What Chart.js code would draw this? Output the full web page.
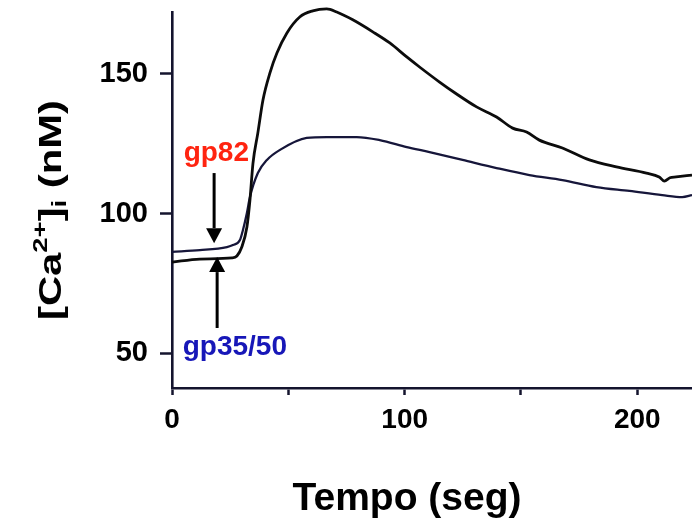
<!DOCTYPE html>
<html>
<head>
<meta charset="utf-8">
<script src="https://cdn.jsdelivr.net/npm/chart.js@4.4.1/dist/chart.umd.min.js"></script>
<style>
  html, body { margin: 0; padding: 0; background: #ffffff; }
  #wrap { width: 692px; height: 523px; }
</style>
</head>
<body>
<div id="wrap"><canvas id="c" width="692" height="523"></canvas></div>
<script>
// ---- data ----
const timeA = [0, 12, 25.8, 27.9, 30, 32.2, 33.5, 34.8, 36.9, 39.1, 42.1, 45.1, 49.4, 54.9, 60.5, 66.5, 70.8, 77.7, 86.3, 93.6, 100.9, 106.4, 115, 122, 130.9, 139.5, 146.4, 152.4, 157.9, 167.8, 179.4, 191, 203.9, 209.4, 211.6, 214, 216.7, 223.5];
const valuesA = [82.6, 83.7, 84.1, 84.8, 88, 95.2, 104.8, 118, 128.9, 140.7, 150.4, 157.5, 164.7, 170.4, 172.6, 173.3, 172.2, 169.4, 165.1, 161.1, 156.1, 152.5, 147.1, 143, 138.2, 134.6, 130.6, 129.2, 126.3, 123.5, 119.2, 116.7, 114.5, 113.1, 111.6, 112.8, 113.1, 113.8];

const timeB = [0, 12, 23.6, 26.2, 29.2, 30.5, 32.2, 33.5, 36.9, 40.8, 46.4, 57.9, 66.5, 79.4, 89.3, 100.9, 110.7, 124.9, 139.5, 153.6, 167.8, 182.4, 196.6, 210.7, 219.3, 223.5];
const valuesB = [86.3, 86.9, 88.0, 88.7, 90.5, 94.1, 100.2, 105.9, 114.5, 119.2, 122.8, 127.1, 127.4, 127.4, 126.3, 123.8, 122.0, 119.2, 116.3, 113.8, 112.0, 109.5, 108.1, 106.6, 105.9, 106.6];

const xTicks = [0, 50, 100, 150, 200];
const xTickLabels = ['0', '', '100', '', '200'];
const yTicks = [50, 100, 150];
const yTickLabels = ['50', '100', '150'];

const xTitle = 'Tempo (seg)';
const labelA = 'gp35/50';
const labelB = 'gp82';

// ---- annotation placement (data units) ----
const annotations = [
  { text: labelB, color: '#ff2410', x: 5.0, y: 118.8, arrowX: 18.1, fromY: 114.5, toY: 89.4 },
  { text: labelA, color: '#1717b8', x: 4.6, y: 49.3, arrowX: 19.4, fromY: 59.0, toY: 84.4 }
];

const FONT = '"Liberation Sans", Arial, Helvetica, sans-serif';
const AXIS_COLOR = '#14142e';

const extrasPlugin = {
  id: 'extras',
  afterDatasetsDraw(chart) {
    const ctx = chart.ctx;
    const xs = chart.scales.x, ys = chart.scales.y;
    ctx.save();
    annotations.forEach(a => {
      const ax = xs.getPixelForValue(a.arrowX);
      const y0 = ys.getPixelForValue(a.fromY);
      const y1 = ys.getPixelForValue(a.toY);
      const dir = y1 > y0 ? 1 : -1;
      const headL = 15, headW = 8;
      ctx.strokeStyle = '#000';
      ctx.fillStyle = '#000';
      ctx.lineWidth = 3;
      ctx.beginPath();
      ctx.moveTo(ax, y0);
      ctx.lineTo(ax, y1 - dir * headL);
      ctx.stroke();
      ctx.beginPath();
      ctx.moveTo(ax, y1);
      ctx.lineTo(ax - headW, y1 - dir * headL);
      ctx.lineTo(ax + headW, y1 - dir * headL);
      ctx.closePath();
      ctx.fill();
      ctx.fillStyle = a.color;
      ctx.font = 'bold 28px ' + FONT;
      ctx.textAlign = 'left';
      ctx.textBaseline = 'alphabetic';
      ctx.fillText(a.text, xs.getPixelForValue(a.x), ys.getPixelForValue(a.y));
    });
    ctx.restore();
  },
  afterDraw(chart) {
    const ctx = chart.ctx;
    ctx.save();
    ctx.fillStyle = '#000';
    ctx.font = 'bold 39px ' + FONT;
    ctx.textAlign = 'center';
    ctx.textBaseline = 'alphabetic';
    ctx.fillText(xTitle, 407, 510);
    const main = 'bold 32px ' + FONT;
    const small = 'bold 21px ' + FONT;
    const parts = [
      { t: '[Ca', f: main, dy: 0 },
      { t: '2+', f: small, dy: -14 },
      { t: ']', f: main, dy: 0 },
      { t: 'i', f: small, dy: 5 },
      { t: ' (nM)', f: main, dy: 0 }
    ];
    let total = 0;
    parts.forEach(p => { ctx.font = p.f; p.w = ctx.measureText(p.t).width; total += p.w; });
    const target = 220;
    const sx = target / total;
    ctx.translate(61, 210);
    ctx.rotate(-Math.PI / 2);
    ctx.scale(sx, 1);
    ctx.textAlign = 'left';
    let cx = -total / 2;
    parts.forEach(p => {
      ctx.font = p.f;
      ctx.fillText(p.t, cx, p.dy);
      cx += p.w;
    });
    ctx.restore();
  }
};

const chart = new Chart(document.getElementById('c'), {
  type: 'line',
  data: {
    datasets: [
      {
        label: labelA,
        data: timeA.map((t, i) => ({ x: t, y: valuesA[i] })),
        borderColor: '#0c0c0c',
        borderWidth: 2.8,
        pointRadius: 0,
        cubicInterpolationMode: 'monotone',
        fill: false,
        clip: false
      },
      {
        label: labelB,
        data: timeB.map((t, i) => ({ x: t, y: valuesB[i] })),
        borderColor: '#16163a',
        borderWidth: 2.3,
        pointRadius: 0,
        cubicInterpolationMode: 'monotone',
        fill: false,
        clip: false
      }
    ]
  },
  options: {
    responsive: false,
    animation: false,
    devicePixelRatio: 1,
    layout: { padding: { top: 12, left: 0, right: 0, bottom: 0 } },
    plugins: { legend: { display: false }, tooltip: { enabled: false }, title: { display: false } },
    scales: {
      x: {
        type: 'linear',
        min: 0,
        max: 223.5,
        afterBuildTicks: s => { s.ticks = xTicks.map(v => ({ value: v })); },
        afterFit: s => { s.height = 135; s.paddingLeft = 0; s.paddingRight = 0; },
        ticks: {
          autoSkip: false,
          maxRotation: 0,
          padding: 8,
          color: '#000',
          font: { family: FONT, size: 28, weight: 'bold' },
          callback: (v, i) => xTickLabels[i]
        },
        grid: { drawOnChartArea: false, drawTicks: true, tickLength: 7, tickWidth: 2.5, tickColor: AXIS_COLOR },
        border: { display: true, width: 2.6, color: AXIS_COLOR }
      },
      y: {
        type: 'linear',
        min: 37.5,
        max: 172.2,
        afterBuildTicks: s => { s.ticks = yTicks.map(v => ({ value: v })); },
        afterFit: s => { s.width = 172; s.paddingTop = 0; s.paddingBottom = 0; },
        ticks: {
          autoSkip: false,
          padding: 12,
          color: '#000',
          font: { family: FONT, size: 29, weight: 'bold' },
          callback: (v, i) => yTickLabels[i]
        },
        grid: { drawOnChartArea: false, drawTicks: true, tickLength: 12, tickWidth: 2.5, tickColor: AXIS_COLOR },
        border: { display: true, width: 2.6, color: AXIS_COLOR }
      }
    }
  },
  plugins: [extrasPlugin]
});
</script>
</body>
</html>
